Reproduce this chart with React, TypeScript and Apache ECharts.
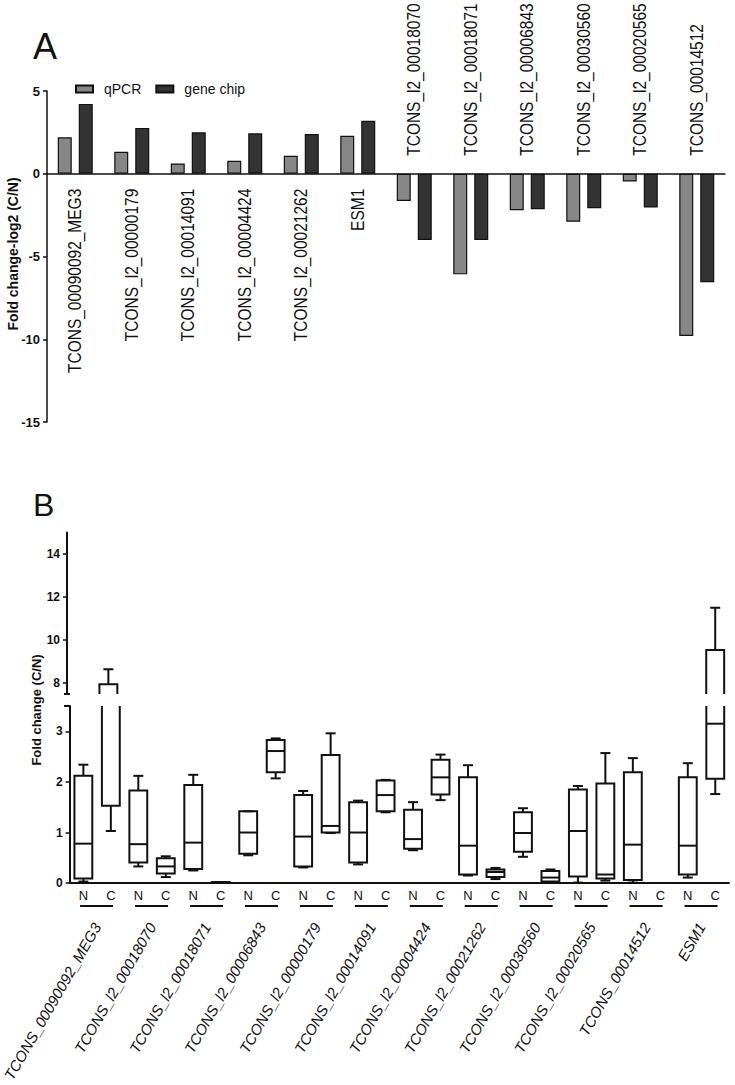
import React, { useEffect, useRef } from "react";
import * as echarts from "echarts";

// ---------- Panel A data ----------
const genesA = [
  "TCONS_00090092_MEG3",
  "TCONS_l2_00000179",
  "TCONS_l2_00014091",
  "TCONS_l2_00004424",
  "TCONS_l2_00021262",
  "ESM1",
  "TCONS_l2_00018070",
  "TCONS_l2_00018071",
  "TCONS_l2_00006843",
  "TCONS_l2_00030560",
  "TCONS_l2_00020565",
  "TCONS_00014512",
];
const qpcr = [2.2, 1.33, 0.62, 0.79, 1.09, 2.3, -1.65, -6.08, -2.2, -2.9, -0.47, -9.8];
const geneChip = [4.22, 2.77, 2.5, 2.44, 2.4, 3.2, -4.0, -4.0, -2.14, -2.08, -2.04, -6.55];

// ---------- Panel B data ----------
const genesB = [
  "TCONS_00090092_MEG3",
  "TCONS_l2_00018070",
  "TCONS_l2_00018071",
  "TCONS_l2_00006843",
  "TCONS_l2_00000179",
  "TCONS_l2_00014091",
  "TCONS_l2_00004424",
  "TCONS_l2_00021262",
  "TCONS_l2_00030560",
  "TCONS_l2_00020565",
  "TCONS_00014512",
  "ESM1",
];
const groups = ["N", "C"];
// [min, Q1, median, Q3, max]
const boxN = [
  [0.03, 0.09, 0.78, 2.12, 2.34],
  [0.33, 0.41, 0.77, 1.83, 2.12],
  [0.25, 0.28, 0.8, 1.94, 2.14],
  [0.55, 0.58, 1.0, 1.42, 1.42],
  [0.31, 0.33, 0.92, 1.74, 1.82],
  [0.37, 0.41, 1.0, 1.6, 1.63],
  [0.65, 0.68, 0.87, 1.45, 1.6],
  [0.15, 0.17, 0.74, 2.09, 2.33],
  [0.52, 0.62, 0.99, 1.4, 1.48],
  [0.01, 0.13, 1.03, 1.85, 1.92],
  [0.01, 0.06, 0.76, 2.19, 2.47],
  [0.11, 0.17, 0.74, 2.09, 2.37],
];
const boxC = [
  [1.03, 1.53, 5.0, 7.95, 8.65],
  [0.12, 0.19, 0.33, 0.49, 0.53],
  [0.015, 0.015, 0.015, 0.02, 0.02],
  [2.07, 2.19, 2.61, 2.83, 2.86],
  [0.99, 1.0, 1.13, 2.53, 2.96],
  [1.4, 1.42, 1.74, 2.03, 2.04],
  [1.64, 1.75, 2.09, 2.44, 2.54],
  [0.08, 0.12, 0.22, 0.27, 0.3],
  [0.01, 0.03, 0.11, 0.24, 0.27],
  [0.05, 0.09, 0.17, 1.97, 2.57],
  [0, 0, 0, 0, 0],
  [1.76, 2.06, 3.15, 9.54, 11.5],
];
const upperTicks = [8, 10, 12, 14];
const lowerTicks = [0, 1, 2, 3];

const FONT = "'Liberation Sans', Arial, sans-serif";
const INK = "#111";

// layout
const GA = { left: 47, right: 10, top: 91, height: 331 };
const GU = { left: 67, right: 6, top: 532.5, height: 161.5 };
const GL = { left: 67, right: 6, top: 706, height: 183 };

const catsB: string[] = [];
const boxData: number[][] = [];
genesB.forEach((g, i) => {
  [boxN[i], boxC[i]].forEach((b, k) => {
    catsB.push(groups[k]);
    boxData.push([catsB.length - 1, ...b]);
  });
});

function renderBox(params: any, api: any) {
  const x = api.value(0);
  const v = [1, 2, 3, 4, 5].map((d) => api.value(d));
  const c = v.map((val) => api.coord([x, val]));
  const cx = c[0][0];
  const bw = api.size([1, 0])[0] * 0.65;
  const cap = 10;
  const st = { stroke: INK, lineWidth: 2, fill: "none" };
  const [yMin, yQ1, yMed, yQ3, yMax] = c.map((p: number[]) => p[1]);
  return {
    type: "group",
    children: [
      { type: "line", shape: { x1: cx, y1: yMax, x2: cx, y2: yQ3 }, style: st },
      { type: "line", shape: { x1: cx - cap / 2, y1: yMax, x2: cx + cap / 2, y2: yMax }, style: st },
      { type: "line", shape: { x1: cx, y1: yQ1, x2: cx, y2: yMin }, style: st },
      { type: "line", shape: { x1: cx - cap / 2, y1: yMin, x2: cx + cap / 2, y2: yMin }, style: st },
      { type: "rect", shape: { x: cx - bw / 2, y: yQ3, width: bw, height: Math.max(yQ1 - yQ3, 0.5) }, style: st },
      { type: "line", shape: { x1: cx - bw / 2, y1: yMed, x2: cx + bw / 2, y2: yMed }, style: st },
    ],
  };
}

const option: any = {
  animation: false,
  backgroundColor: "#fff",
  textStyle: { fontFamily: FONT, color: INK },
  legend: {
    data: ["qPCR", "gene chip"],
    left: 70,
    top: 77,
    itemWidth: 17,
    itemHeight: 7,
    itemGap: 14,
    icon: "rect",
    textStyle: { fontSize: 14, fontFamily: FONT, color: INK, padding: [0, 0, 0, 6] },
  },
  grid: [
    { ...GA, containLabel: false },
    { ...GU, containLabel: false },
    { ...GL, containLabel: false },
  ],
  xAxis: [
    {
      type: "category",
      gridIndex: 0,
      data: genesA,
      axisLine: { onZero: true, lineStyle: { color: INK, width: 1.5 } },
      axisTick: { alignWithLabel: true, length: 5, lineStyle: { color: INK, width: 1.5 } },
      axisLabel: { show: false },
    },
    {
      type: "category",
      gridIndex: 1,
      data: catsB,
      show: false,
    },
    {
      type: "category",
      gridIndex: 2,
      data: catsB,
      position: "bottom",
      axisLine: { lineStyle: { color: INK, width: 2 } },
      axisTick: { alignWithLabel: true, length: 4, lineStyle: { color: INK, width: 1.5 } },
      axisLabel: { interval: 0, fontSize: 13, color: INK, margin: 6, fontFamily: FONT },
    },
    {
      type: "category",
      gridIndex: 2,
      data: genesB,
      position: "bottom",
      axisLine: { show: false },
      axisTick: { show: false },
      axisLabel: {
        interval: 0,
        rotate: 60,
        fontSize: 15,
        fontStyle: "italic",
        color: INK,
        margin: 41,
        fontFamily: FONT,
      },
    },
  ],
  yAxis: [
    {
      type: "value",
      gridIndex: 0,
      min: -15,
      max: 5,
      interval: 5,
      splitLine: { show: false },
      axisLine: { show: true, lineStyle: { color: INK, width: 1.5 } },
      axisTick: { show: true, length: 4, lineStyle: { color: INK, width: 1.5 } },
      axisLabel: { fontSize: 13, fontWeight: "bold", color: INK, margin: 7, fontFamily: FONT },
    },
    {
      type: "value",
      gridIndex: 1,
      min: 7.5,
      max: 15,
      splitLine: { show: false },
      axisLine: { show: true, lineStyle: { color: INK, width: 2 } },
      axisTick: { show: true, length: 4, customValues: upperTicks, lineStyle: { color: INK, width: 1.5 } },
      axisLabel: { customValues: upperTicks, fontSize: 12, fontWeight: "bold", color: INK, margin: 7, fontFamily: FONT },
    },
    {
      type: "value",
      gridIndex: 2,
      min: 0,
      max: 3.5,
      splitLine: { show: false },
      axisLine: { show: true, lineStyle: { color: INK, width: 2 } },
      axisTick: { show: true, length: 4, customValues: lowerTicks, lineStyle: { color: INK, width: 1.5 } },
      axisLabel: { customValues: lowerTicks, fontSize: 12, fontWeight: "bold", color: INK, margin: 7, fontFamily: FONT },
    },
  ],
  series: [
    {
      name: "qPCR",
      type: "bar",
      xAxisIndex: 0,
      yAxisIndex: 0,
      data: qpcr,
      barWidth: 14,
      barGap: "50%",
      itemStyle: { color: "#878787", borderColor: INK, borderWidth: 1.2 },
    },
    {
      name: "gene chip",
      type: "bar",
      xAxisIndex: 0,
      yAxisIndex: 0,
      data: geneChip,
      barWidth: 14,
      barGap: "50%",
      itemStyle: { color: "#333333", borderColor: INK, borderWidth: 1.2 },
    },
    {
      type: "custom",
      xAxisIndex: 0,
      yAxisIndex: 0,
      silent: true,
      clip: false,
      data: genesA.map((g, i) => [i, qpcr[i]]),
      renderItem: (params: any, api: any) => {
        const i = api.value(0);
        const p = api.coord([i, 0]);
        const pos = api.value(1) >= 0;
        return {
          type: "text",
          x: p[0],
          y: pos ? p[1] + 15 : p[1] - 18,
          rotation: Math.PI / 2,
          scaleY: 1.15,
          style: {
            text: genesA[i],
            fontSize: 15.5,
            fontFamily: FONT,
            fill: INK,
            align: pos ? "right" : "left",
            verticalAlign: "middle",
          },
        };
      },
    },
    {
      type: "custom",
      xAxisIndex: 1,
      yAxisIndex: 1,
      clip: true,
      silent: true,
      data: boxData,
      renderItem: renderBox,
    },
    {
      type: "custom",
      xAxisIndex: 2,
      yAxisIndex: 2,
      clip: true,
      silent: true,
      data: boxData,
      renderItem: renderBox,
    },
    {
      type: "custom",
      xAxisIndex: 3,
      yAxisIndex: 2,
      clip: false,
      silent: true,
      data: genesB.map((g, i) => [i, 0]),
      renderItem: (params: any, api: any) => {
        const p = api.coord([api.value(0), 0]);
        return {
          type: "line",
          shape: { x1: p[0] - 17, y1: p[1] + 23, x2: p[0] + 16, y2: p[1] + 23 },
          style: { stroke: INK, lineWidth: 2 },
        };
      },
    },
  ],
  graphic: [
    {
      type: "text",
      left: 33,
      top: 28,
      style: { text: "A", fontSize: 36, fontFamily: FONT, fill: INK },
    },
    {
      type: "text",
      left: 33,
      top: 489,
      style: { text: "B", fontSize: 32, fontFamily: FONT, fill: INK },
    },
    {
      type: "text",
      x: 13,
      y: 254,
      rotation: Math.PI / 2,
      style: {
        text: "Fold change-log2 (C/N)",
        fontSize: 14,
        fontWeight: "bold",
        fontFamily: FONT,
        fill: INK,
        align: "center",
        verticalAlign: "middle",
      },
    },
    {
      type: "text",
      x: 36,
      y: 710,
      rotation: Math.PI / 2,
      style: {
        text: "Fold change (C/N)",
        fontSize: 13,
        fontWeight: "bold",
        fontFamily: FONT,
        fill: INK,
        align: "center",
        verticalAlign: "middle",
      },
    },
    {
      type: "line",
      shape: { x1: GU.left - 3, y1: GU.top + GU.height, x2: GU.left + 3, y2: GU.top + GU.height },
      style: { stroke: INK, lineWidth: 2 },
    },
    {
      type: "line",
      shape: { x1: GL.left - 3, y1: GL.top, x2: GL.left + 3, y2: GL.top },
      style: { stroke: INK, lineWidth: 2 },
    },
  ],
};

export default function App() {
  const ref = useRef<HTMLDivElement>(null);
  useEffect(() => {
    const chart = echarts.init(ref.current!, null, { renderer: "svg" });
    chart.setOption(option);
    return () => chart.dispose();
  }, []);
  return (
    <div
      ref={ref}
      style={{ position: "absolute", left: 0, top: 0, width: 735, height: 1085, background: "#fff" }}
    />
  );
}
